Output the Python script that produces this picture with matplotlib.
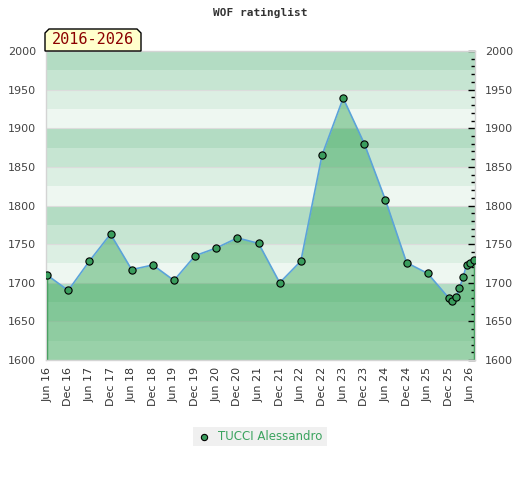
import matplotlib
matplotlib.use("Agg")
import matplotlib.pyplot as plt
from matplotlib.patches import Polygon, Rectangle
from matplotlib.lines import Line2D
import numpy as np

# ---- data ----
dates = ["2016-06", "2016-12", "2017-06", "2017-12", "2018-06", "2018-12",
         "2019-06", "2019-12", "2020-06", "2020-12", "2021-06", "2021-12",
         "2022-06", "2022-12", "2023-06", "2023-12", "2024-06", "2024-12",
         "2025-06", "2025-12", "2026-01", "2026-02", "2026-03", "2026-04",
         "2026-05", "2026-06", "2026-07"]
ratings = [1710, 1690, 1728, 1763, 1717, 1723, 1703, 1735, 1745, 1758, 1751,
           1700, 1728, 1865, 1939, 1880, 1807, 1726, 1712, 1680, 1677, 1681,
           1693, 1707, 1723, 1725, 1730]
tick_labels = ["Jun 16", "Dec 16", "Jun 17", "Dec 17", "Jun 18", "Dec 18",
               "Jun 19", "Dec 19", "Jun 20", "Dec 20", "Jun 21", "Dec 21",
               "Jun 22", "Dec 22", "Jun 23", "Dec 23", "Jun 24", "Dec 24",
               "Jun 25", "Dec 25", "Jun 26"]
player = "TUCCI Alessandro"
title = "WOF ratinglist"
period = "2016-2026"

def month_index(s):
    y, m = s.split("-")
    return (int(y) - 2016) * 12 + (int(m) - 6)

x = np.array([month_index(d) for d in dates])
y = np.array(ratings)
tick_pos = np.arange(len(tick_labels)) * 6

W, H = 520, 480
fig = plt.figure(figsize=(W / 100, H / 100), dpi=100)
L, R, T, B = 46, 475, 51, 360
ax = fig.add_axes([L / W, 1 - B / H, (R - L) / W, (B - T) / H])

ymin, ymax = 1600, 2000
band_colors = ["#b3dcc3", "#c6e5d2", "#dcefe3", "#eef7f1"]
for i, top in enumerate(range(ymax, ymin, -25)):
    ax.axhspan(top - 25, top, color=band_colors[i % 4], lw=0, zorder=0)
for g in range(ymin + 50, ymax, 50):
    ax.axhline(g, color="#dcdcdc", lw=0.8, zorder=0.5)

green = "#2da14e"
ax.fill_between(x, y, ymin, color=green, alpha=0.44, lw=0, zorder=1)
ax.vlines([x[0], x[-1]], ymin, [y[0], y[-1]], color="#2a9448", lw=1.0, zorder=2)
ax.plot(x, y, color="#5ba3d9", lw=1.2, zorder=3)
ax.plot(x, y, ls="none", marker="o", ms=5.2, mfc="#3a9d5d", mec="black",
        mew=0.8, zorder=4)

ax.set_xlim(-0.3, 121.4)
ax.set_ylim(ymin, ymax)
ax.set_xticks(tick_pos)
ax.set_xticklabels(tick_labels, rotation=90, fontsize=8, color="#333333")
ax.set_yticks(np.arange(ymin, ymax + 1, 50))
ax.set_yticks(np.arange(ymin, ymax + 1, 10), minor=True)
ax.tick_params(axis="x", length=0, pad=5)
ax.tick_params(axis="y", which="both", left=False, right=True,
               labelleft=True, labelright=True, direction="in",
               colors="black", labelsize=8, labelcolor="#444444")
ax.tick_params(axis="y", which="major", length=5, width=1, pad=7)
ax.tick_params(axis="y", which="minor", length=3, width=1)
for s in ax.spines.values():
    s.set_color("#d4d4d4")
    s.set_linewidth(1.0)

# title
fig.text(260 / W, 1 - 13 / H, title, ha="center", va="center",
         family="DejaVu Sans Mono", fontweight="bold", fontsize=8,
         color="#333333")

# period badge
bx0, bx1, by0, by1, c = 45, 141, 51, 29, 4
pts = [(bx0, by0), (bx0, by1 + c), (bx0 + c, by1), (bx1 - c, by1),
       (bx1, by1 + c), (bx1, by0)]
pts = [(px / W, 1 - py / H) for px, py in pts]
fig.patches.append(Polygon(pts, closed=True, transform=fig.transFigure,
                           facecolor="#ffffcc", edgecolor="black", lw=1.0,
                           zorder=5))
fig.text(((bx0 + bx1) / 2) / W, 1 - 40 / H, period, ha="center", va="center",
         family="DejaVu Sans Mono", fontsize=11, color="#8b0000", zorder=6)

# legend
lx0, lx1, ly0, ly1 = 193, 327, 427, 446
fig.patches.append(Rectangle((lx0 / W, 1 - ly1 / H), (lx1 - lx0) / W,
                             (ly1 - ly0) / H, transform=fig.transFigure,
                             facecolor="#f0f0f0", edgecolor="none"))
fig.lines.append(Line2D([204 / W], [1 - 436.5 / H], transform=fig.transFigure,
                        marker="o", ms=4.5, mfc="#3a9d5d", mec="black",
                        mew=0.8, ls="none"))
fig.text(218 / W, 1 - 436.5 / H, player, ha="left", va="center",
         fontsize=8.5, color="#3aa35e")

fig.savefig("out.png", dpi=100)
